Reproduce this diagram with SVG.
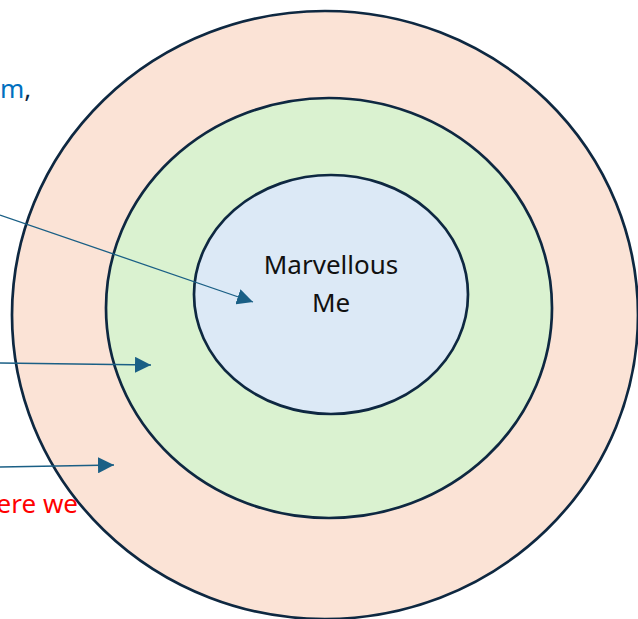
<svg xmlns="http://www.w3.org/2000/svg" width="638" height="619" viewBox="0 0 638 619">
<defs>
<marker id="ah" viewBox="0 0 10 10" refX="10" refY="5" markerWidth="16" markerHeight="16" markerUnits="userSpaceOnUse" orient="auto">
<path d="M0,0 L10,5 L0,10 z" fill="#1a5f85"/>
</marker>
<style>
.ring{stroke:#0e2841;stroke-width:2.7}
.conn{stroke:#1a5f85;stroke-width:1.3;fill:none;marker-end:url(#ah)}
.t{font-family:"Noto Sans","Open Sans",sans-serif;font-size:26px}
</style>
</defs>
<rect width="638" height="619" fill="#ffffff"/>
<g id="outer"><ellipse class="ring" cx="325" cy="315" rx="313" ry="304" fill="#fbe3d6"/></g>
<g id="middle"><ellipse class="ring" cx="329" cy="308" rx="223" ry="210" fill="#daf2d0"/></g>
<g id="inner"><ellipse class="ring" cx="331" cy="294.5" rx="137" ry="119.5" fill="#dce9f6"/>
<text class="t" x="331" y="274" text-anchor="middle" fill="#111">Marvellous</text>
<text class="t" x="331" y="312" text-anchor="middle" fill="#111">Me</text>
</g>
<g id="labels">
<text class="t" x="0" y="98"><tspan fill="#0070c0">m</tspan><tspan fill="#0e2841">,</tspan></text>
<text class="t" x="78" y="513" text-anchor="end" fill="#ff0000">ere we</text>
</g>
<g id="connectors">
<line class="conn" x1="0" y1="215" x2="253" y2="302"/>
<line class="conn" x1="0" y1="363" x2="151" y2="365"/>
<line class="conn" x1="0" y1="467" x2="114" y2="465"/>
</g>
</svg>
